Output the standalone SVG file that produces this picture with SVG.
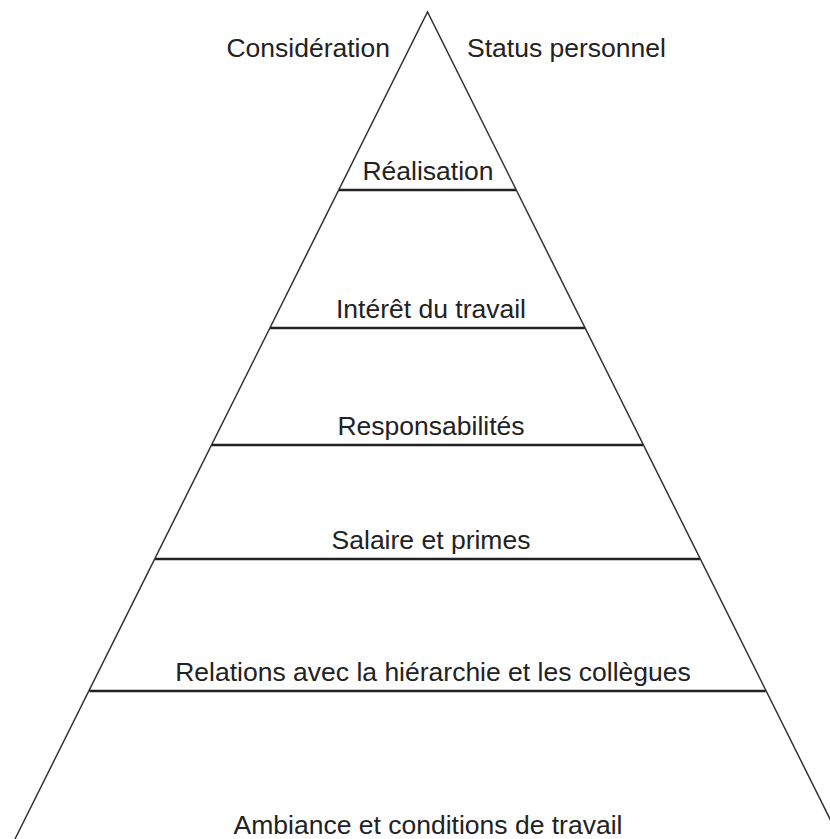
<svg xmlns="http://www.w3.org/2000/svg" width="830" height="839" viewBox="0 0 830 839">
<style>
.lbl{font-family:"Liberation Sans",Arial,sans-serif;font-size:26.5px;fill:#222;text-anchor:middle}
.side{fill:none;stroke:#333;stroke-width:1.5}
.tier{stroke:#222;stroke-width:2.5}
</style>
<rect width="830" height="839" fill="#fff"/>
<g id="pyramid">
<polyline class="side" points="15,839 427.5,12 840,839"/>
</g>
<g id="connectors">
<line class="tier" x1="338.9" y1="190" x2="516.1" y2="190"/>
<line class="tier" x1="270.1" y1="328" x2="584.9" y2="328"/>
<line class="tier" x1="211.9" y1="445" x2="643.1" y2="445"/>
<line class="tier" x1="155.1" y1="559" x2="699.9" y2="559"/>
<line class="tier" x1="89.4" y1="691" x2="765.6" y2="691"/>
</g>
<g id="consideration"><text class="lbl" x="390" y="57" style="text-anchor:end">Considération</text></g>
<g id="status"><text class="lbl" x="467" y="57" style="text-anchor:start">Status personnel</text></g>
<g id="realisation"><text class="lbl" x="428" y="180">Réalisation</text></g>
<g id="interet"><text class="lbl" x="431" y="318">Intérêt du travail</text></g>
<g id="responsabilites"><text class="lbl" x="431" y="435">Responsabilités</text></g>
<g id="salaire"><text class="lbl" x="431" y="549">Salaire et primes</text></g>
<g id="relations"><text class="lbl" x="433" y="681">Relations avec la hiérarchie et les collègues</text></g>
<g id="ambiance"><text class="lbl" x="428" y="834">Ambiance et conditions de travail</text></g>
</svg>
